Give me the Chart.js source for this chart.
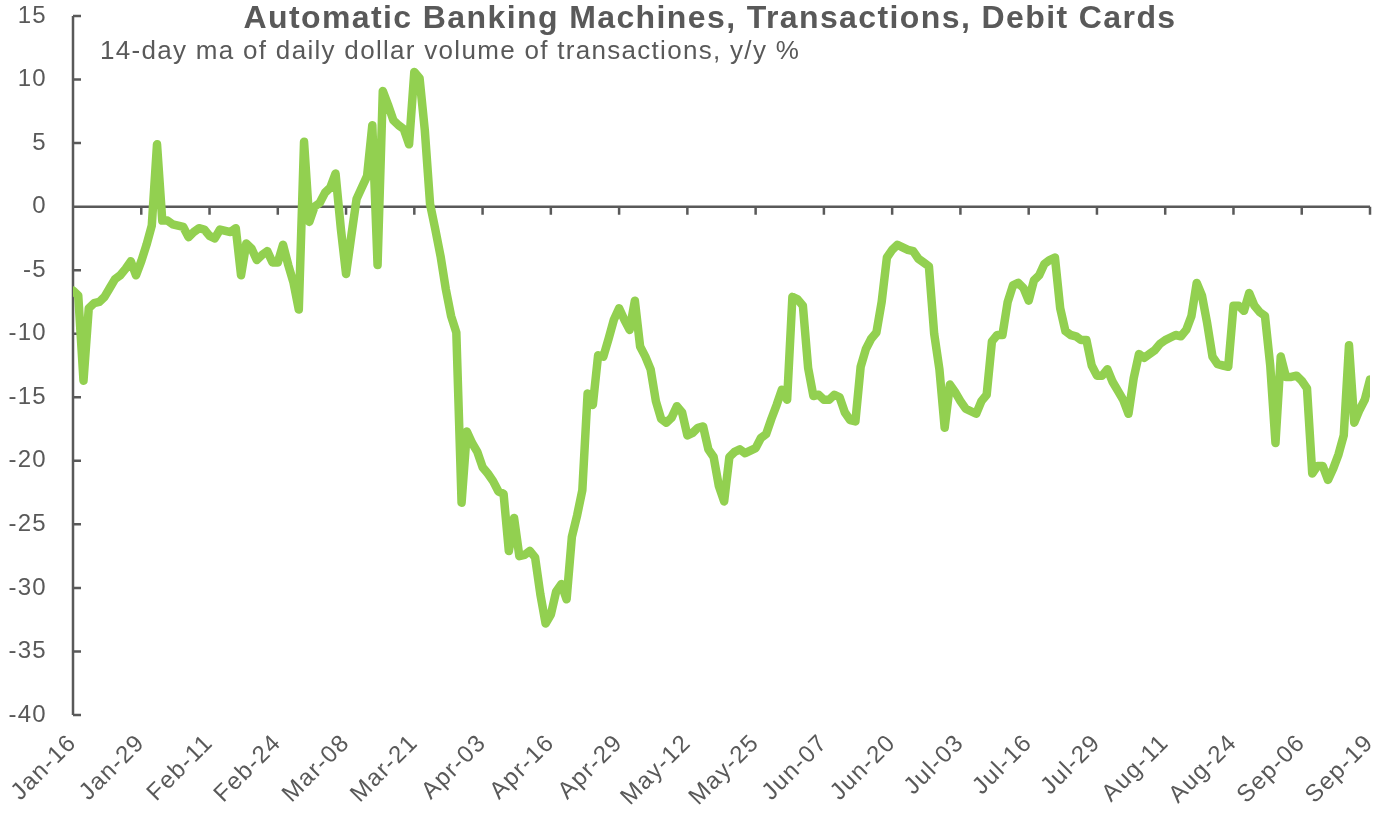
<!DOCTYPE html>
<html>
<head>
<meta charset="utf-8">
<script src="https://cdn.jsdelivr.net/npm/chart.js@4.4.1/dist/chart.umd.min.js"></script>
<style>
  html, body { margin: 0; padding: 0; background: #ffffff; }
  #wrap { width: 1376px; height: 816px; }
</style>
</head>
<body>
<div id="wrap"><canvas id="atm" width="1376" height="816"></canvas></div>
<script>
const titleText = "Automatic Banking Machines, Transactions, Debit Cards";
const subtitleText = "14-day ma of daily dollar volume of transactions, y/y %";

// one tick every 13 days, starting Jan-16
const xTickLabels = ["Jan-16", "Jan-29", "Feb-11", "Feb-24", "Mar-08", "Mar-21", "Apr-03",
  "Apr-16", "Apr-29", "May-12", "May-25", "Jun-07", "Jun-20", "Jul-03", "Jul-16",
  "Jul-29", "Aug-11", "Aug-24", "Sep-06", "Sep-19"];
const yTicks = [15, 10, 5, 0, -5, -10, -15, -20, -25, -30, -35, -40];

// daily values, y/y %, from Jan-16 (day 0) to Sep-19 (day 247)
const yoyValues = [
  -6.6, -7.0, -13.7, -8.0, -7.6, -7.5, -7.1, -6.4, -5.7, -5.4, -4.9, -4.3, -5.4,
  -4.3, -3.0, -1.5, 4.9, -1.1, -1.1, -1.4, -1.5, -1.6, -2.4, -2.0, -1.7, -1.8,
  -2.3, -2.5, -1.8, -1.9, -2.0, -1.7, -5.4, -2.9, -3.3, -4.2, -3.8, -3.5, -4.4,
  -4.4, -3.0, -4.6, -6.0, -8.1, 5.1, -1.2, 0.0, 0.3, 1.1, 1.5, 2.6, -1.7,
  -5.3, -2.3, 0.6, 1.5, 2.4, 6.4, -4.6, 9.1, 8.0, 6.8, 6.4, 6.1, 4.9,
  10.6, 10.1, 6.0, 0.2, -1.8, -3.9, -6.5, -8.6, -9.9, -23.3, -17.7, -18.6, -19.3,
  -20.5, -21.0, -21.6, -22.4, -22.6, -27.1, -24.5, -27.5, -27.4, -27.1, -27.6, -30.5, -32.8,
  -32.1, -30.3, -29.7, -30.9, -26.0, -24.3, -22.3, -14.7, -15.6, -11.7, -11.8, -10.4, -8.9,
  -8.0, -8.9, -9.7, -7.4, -11.0, -11.8, -12.8, -15.3, -16.7, -17.0, -16.6, -15.7, -16.2,
  -18.0, -17.8, -17.4, -17.3, -19.1, -19.7, -22.0, -23.2, -19.7, -19.3, -19.1, -19.4, -19.2,
  -19.0, -18.2, -17.9, -16.7, -15.6, -14.4, -15.2, -7.1, -7.3, -7.8, -12.7, -14.9, -14.8,
  -15.2, -15.2, -14.8, -15.0, -16.2, -16.8, -16.9, -12.6, -11.2, -10.4, -9.9, -7.5, -4.0,
  -3.4, -3.0, -3.2, -3.4, -3.5, -4.1, -4.4, -4.7, -10.0, -12.8, -17.4, -14.0, -14.6,
  -15.3, -15.9, -16.1, -16.3, -15.3, -14.8, -10.6, -10.1, -10.1, -7.5, -6.2, -6.0, -6.4,
  -7.4, -5.8, -5.4, -4.5, -4.2, -4.0, -8.0, -9.8, -10.1, -10.2, -10.5, -10.5, -12.5,
  -13.3, -13.3, -12.8, -13.8, -14.5, -15.2, -16.3, -13.5, -11.6, -11.9, -11.6, -11.3, -10.8,
  -10.5, -10.3, -10.1, -10.2, -9.7, -8.6, -6.0, -7.0, -9.2, -11.8, -12.4, -12.5, -12.6,
  -7.8, -7.8, -8.2, -6.8, -7.8, -8.3, -8.6, -12.5, -18.6, -11.8, -13.4, -13.4, -13.3,
  -13.7, -14.3, -21.0, -20.4, -20.4, -21.5, -20.6, -19.5, -18.0, -10.9, -17.0, -16.0, -15.2,
  -13.6
];

const axisGrey = "#595959";
const tickStep = 13;

// excel-like loose letter spacing for every label
const spacing = {
  id: "spacing",
  beforeUpdate(chart) { chart.ctx.letterSpacing = "1.3px"; },
  beforeDraw(chart) { chart.ctx.letterSpacing = "1.3px"; }
};

// axis lines and tick marks like the excel export: y ticks inward, x ticks hang under zero
const axisLines = {
  id: "axisLines",
  beforeDatasetsDraw(chart) {
    const { ctx, chartArea, scales } = chart;
    const x = scales.x, y = scales.y;
    ctx.save();
    ctx.strokeStyle = axisGrey;
    ctx.lineWidth = 2.5;
    ctx.lineCap = "butt";
    ctx.beginPath();
    ctx.moveTo(chartArea.left, y.getPixelForValue(15));
    ctx.lineTo(chartArea.left, y.getPixelForValue(-40));
    yTicks.forEach(v => {
      const py = y.getPixelForValue(v);
      ctx.moveTo(chartArea.left, py);
      ctx.lineTo(chartArea.left + 8, py);
    });
    const zy = y.getPixelForValue(0);
    ctx.moveTo(chartArea.left, zy);
    ctx.lineTo(x.getPixelForValue(247), zy);
    xTickLabels.forEach((lab, i) => {
      const px = x.getPixelForValue(i * tickStep);
      ctx.moveTo(px, zy);
      ctx.lineTo(px, zy + 8);
    });
    ctx.stroke();
    ctx.restore();
  },
  afterDraw(chart) {
    const ctx = chart.ctx;
    ctx.save();
    ctx.fillStyle = axisGrey;
    ctx.letterSpacing = "1.4px";
    ctx.font = "bold 32px 'Liberation Sans', Arial, sans-serif";
    ctx.textAlign = "center";
    ctx.textBaseline = "alphabetic";
    ctx.fillText(titleText, 710, 28);
    ctx.font = "26px 'Liberation Sans', Arial, sans-serif";
    ctx.letterSpacing = "1.3px";
    ctx.textAlign = "left";
    ctx.fillText(subtitleText, 100, 59);
    ctx.restore();
  }
};

new Chart(document.getElementById("atm"), {
  type: "line",
  data: {
    datasets: [{
      data: yoyValues.map((v, i) => ({ x: i, y: v })),
      borderColor: "#92D050",
      borderWidth: 8.5,
      borderJoinStyle: "round",
      borderCapStyle: "round",
      pointRadius: 0,
      tension: 0,
      fill: false
    }]
  },
  options: {
    responsive: false,
    animation: false,
    devicePixelRatio: 1,
    layout: { padding: { left: 0, right: 6, top: 16, bottom: 0 } },
    plugins: {
      legend: { display: false },
      title: { display: false },
      tooltip: { enabled: false }
    },
    scales: {
      x: {
        type: "linear",
        min: 0,
        max: 247,
        grid: { display: false },
        border: { display: false },
        afterBuildTicks: s => { s.ticks = xTickLabels.map((l, i) => ({ value: i * tickStep })); },
        afterFit: s => { s.height = 101; s.paddingLeft = 0; s.paddingRight = 0; },
        ticks: {
          autoSkip: false,
          minRotation: 45,
          maxRotation: 45,
          padding: 6,
          color: axisGrey,
          font: { family: "'Liberation Sans', Arial, sans-serif", size: 24 },
          callback: v => xTickLabels[Math.round(v / tickStep)]
        }
      },
      y: {
        min: -40,
        max: 15,
        grid: { display: false },
        border: { display: false },
        afterFit: s => { s.width = 73; s.paddingTop = 0; s.paddingBottom = 0; },
        ticks: {
          stepSize: 5,
          padding: 18,
          color: axisGrey,
          font: { family: "'Liberation Sans', Arial, sans-serif", size: 24 }
        }
      }
    }
  },
  plugins: [spacing, axisLines]
});
</script>
</body>
</html>
